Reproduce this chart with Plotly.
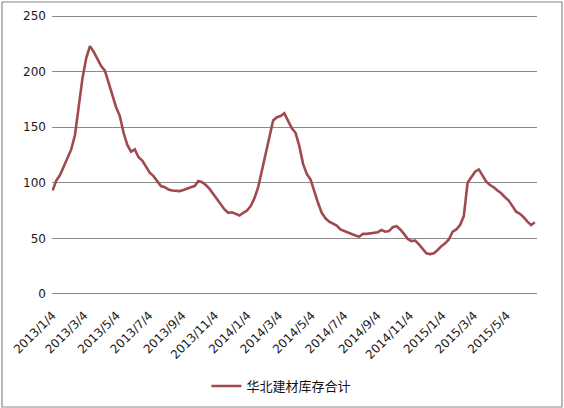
import plotly.graph_objects as go
import pandas as pd

series_name = "华北建材库存合计"
start_date = "2013-01-04"
values = [
    93, 102, 107, 115, 123, 130, 143, 171, 194, 212,
    223, 218, 211, 205, 201, 190, 177, 168, 160, 145,
    134, 128, 130, 123, 120, 114, 109, 106, 102, 97,
    96, 94, 93, 93, 92.5, 93.5, 95, 96, 97, 101.5,
    100.5, 98, 94.5, 90, 85, 80, 76, 73, 73.5, 72,
    70.5, 73, 75, 79, 86, 96, 111, 125, 143, 156,
    159, 160, 162.5, 156, 149, 145, 133, 117, 108, 103,
    92, 82, 73, 68, 65, 63, 61.5, 58, 56.5, 55.5,
    54, 52.5, 51.5, 54, 54, 54.5, 54.5, 55.5, 57.5, 56,
    56.5, 60, 61, 58, 54, 49.5, 47.5, 48, 44.5, 40,
    36.5, 35.8, 36.5, 39.5, 43, 45.5, 49, 56, 58, 62,
    70, 100, 105, 110, 112, 106, 101, 98, 96, 93,
    90.5, 87, 84, 79, 74, 72, 69, 65, 62, 64.5,
]
dates = pd.date_range(start_date, periods=len(values), freq="7D")

tick_dates = ["2013-01-04", "2013-03-04", "2013-05-04", "2013-07-04", "2013-09-04",
              "2013-11-04", "2014-01-04", "2014-03-04", "2014-05-04", "2014-07-04",
              "2014-09-04", "2014-11-04", "2015-01-04", "2015-03-04", "2015-05-04"]
tick_labels = ["2013/1/4", "2013/3/4", "2013/5/4", "2013/7/4", "2013/9/4",
               "2013/11/4", "2014/1/4", "2014/3/4", "2014/5/4", "2014/7/4",
               "2014/9/4", "2014/11/4", "2015/1/4", "2015/3/4", "2015/5/4"]
y_ticks = [0, 50, 100, 150, 200, 250]

fig = go.Figure()
fig.add_trace(go.Scatter(
    x=dates, y=values, mode="lines", name=series_name,
    line=dict(color="#A04A4E", width=2.6),
))

# plot area: x 52..537, y(250)=16, y(0)=294; range padded by 1 unit so edge gridlines draw
fig.update_layout(
    width=564, height=408,
    margin=dict(l=52, r=27, t=15, b=113, autoexpand=False),
    paper_bgcolor="white", plot_bgcolor="white",
    font=dict(family="DejaVu Sans", size=12, color="#1a1a1a"),
    showlegend=True,
    legend=dict(orientation="h", x=0.473, xanchor="center", y=-0.325, yanchor="middle",
                font=dict(family="Noto Sans CJK SC", size=13, color="#111111")),
    xaxis=dict(
        range=["2013-01-03", "2015-06-30"],
        tickmode="array", tickvals=tick_dates, ticktext=tick_labels,
        tickangle=-45, showgrid=False, zeroline=False, showline=False,
        ticks="", automargin=False, ticklabelstandoff=10,
        tickfont=dict(family="DejaVu Sans", size=12, color="#1a1a1a"),
    ),
    yaxis=dict(
        range=[-1, 251], tickmode="array", tickvals=y_ticks,
        showgrid=True, gridcolor="#8a8a8a", gridwidth=1,
        zeroline=False, showline=False, ticks="", automargin=False,
        ticklabelstandoff=5,
        tickfont=dict(family="DejaVu Sans", size=12, color="#1a1a1a"),
    ),
    shapes=[dict(type="rect", xref="paper", yref="paper",
                 x0=-0.1031, x1=1.0515, y0=-0.4, y1=1.0464,
                 line=dict(color="#8a8a8a", width=1.2), layer="below")],
)

fig.write_html("out.html", config={"displayModeBar": False},
               post_script="document.body.style.margin='0';document.body.style.overflow='hidden';")
